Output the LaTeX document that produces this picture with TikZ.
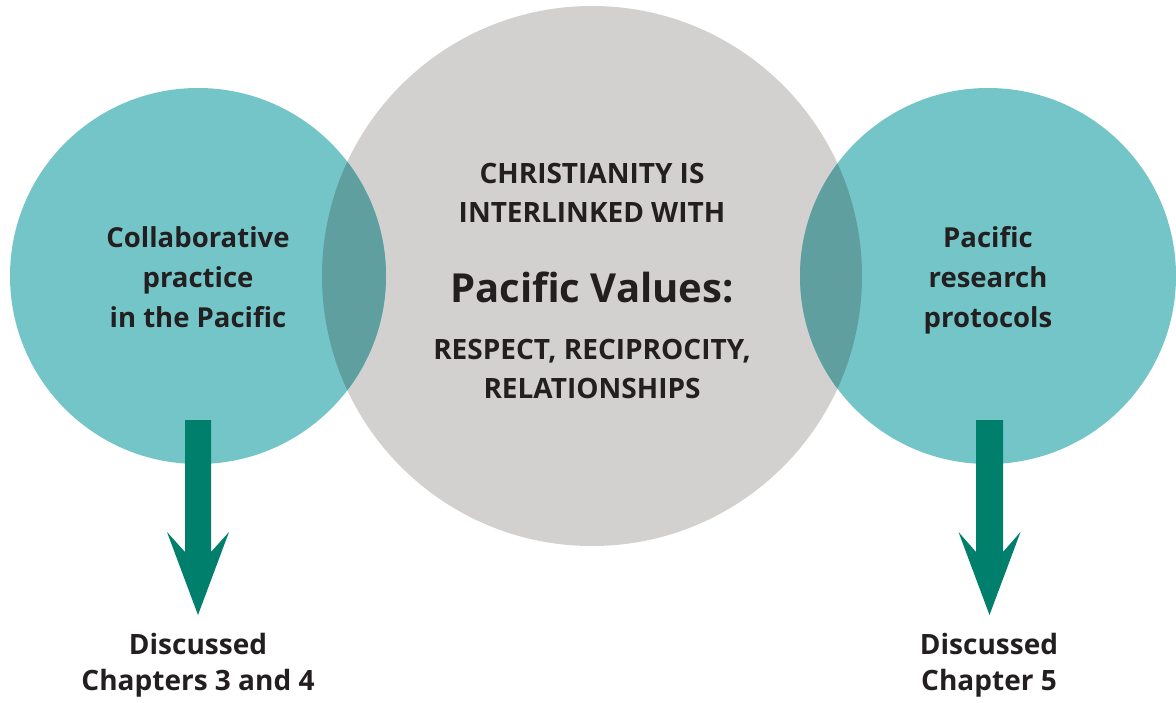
\documentclass[tikz,border=0pt]{standalone}
\usepackage{fontspec}
\setmainfont{Open Sans}
\definecolor{tealc}{HTML}{74C5C8}
\definecolor{greyc}{HTML}{D2D1D0}
\definecolor{overc}{HTML}{5F9FA0}
\definecolor{arrowc}{HTML}{00806C}
\definecolor{textc}{HTML}{231F20}
\begin{document}
\begin{tikzpicture}[x=1pt,y=-1pt,
  lbl/.style={text=textc,font=\bfseries\fontsize{27.5}{40}\selectfont,align=center,inner sep=0pt,anchor=base},
  bot/.style={text=textc,font=\bfseries\fontsize{28}{36}\selectfont,align=center,inner sep=0pt,anchor=base},
  captext/.style={text=textc,font=\bfseries\fontsize{28}{38.5}\selectfont,align=center,inner sep=0pt,anchor=base},
  arrowbody/.style={fill=arrowc,draw=none}]
\fill[white] (0,0) rectangle (1176,702);
\useasboundingbox (0,0) rectangle (1176,702);
% circles
\node[circle,fill=greyc,minimum size=540pt,inner sep=0pt] (C) at (592,276) {};
\node[circle,fill=tealc,minimum size=376pt,inner sep=0pt] (L) at (198,276) {};
\node[circle,fill=tealc,minimum size=376pt,inner sep=0pt] (R) at (988,276) {};
\begin{scope}
  \clip (198,276) circle (188);
  \fill[overc] (592,276) circle (270);
\end{scope}
\begin{scope}
  \clip (988,276) circle (188);
  \fill[overc] (592,276) circle (270);
\end{scope}
% texts in circles (base = baseline of last line)
\node[lbl] (Lt) at (198,327) {Collaborative\\practice\\in the Pacific};
\node[lbl] (Rt) at (988,327) {Pacific\\research\\protocols};
\node[captext] (Ct1) at (592,222) {CHRISTIANITY IS\\INTERLINKED WITH};
\node[text=textc,font=\bfseries\fontsize{40}{50}\selectfont,inner sep=0pt,anchor=base] (Ct2) at (592,302) {Pacific Values:};
\node[captext] (Ct3) at (592,398) {RESPECT, RECIPROCITY,\\RELATIONSHIPS};
% bottom texts
\node[bot] (Lb) at (198,690) {Discussed\\Chapters 3 and 4};
\node[bot] (Rb) at (989,690) {Discussed\\Chapter 5};
% arrows
\coordinate (la) at (198,420);
\coordinate (ra) at (989.5,420);
\fill[arrowbody] ([xshift=-13pt]la) -- ([xshift=13pt]la) -- ([xshift=13pt,yshift=-132pt]la)
  -- ([xshift=31pt,yshift=-112pt]la) -- ([yshift=-195pt]la) -- ([xshift=-31pt,yshift=-112pt]la)
  -- ([xshift=-13pt,yshift=-132pt]la) -- cycle;
\fill[arrowbody] ([xshift=-13.5pt]ra) -- ([xshift=13.5pt]ra) -- ([xshift=13.5pt,yshift=-132pt]ra)
  -- ([xshift=31pt,yshift=-112pt]ra) -- ([yshift=-195pt]ra) -- ([xshift=-31pt,yshift=-112pt]ra)
  -- ([xshift=-13.5pt,yshift=-132pt]ra) -- cycle;
\end{tikzpicture}
\end{document}
